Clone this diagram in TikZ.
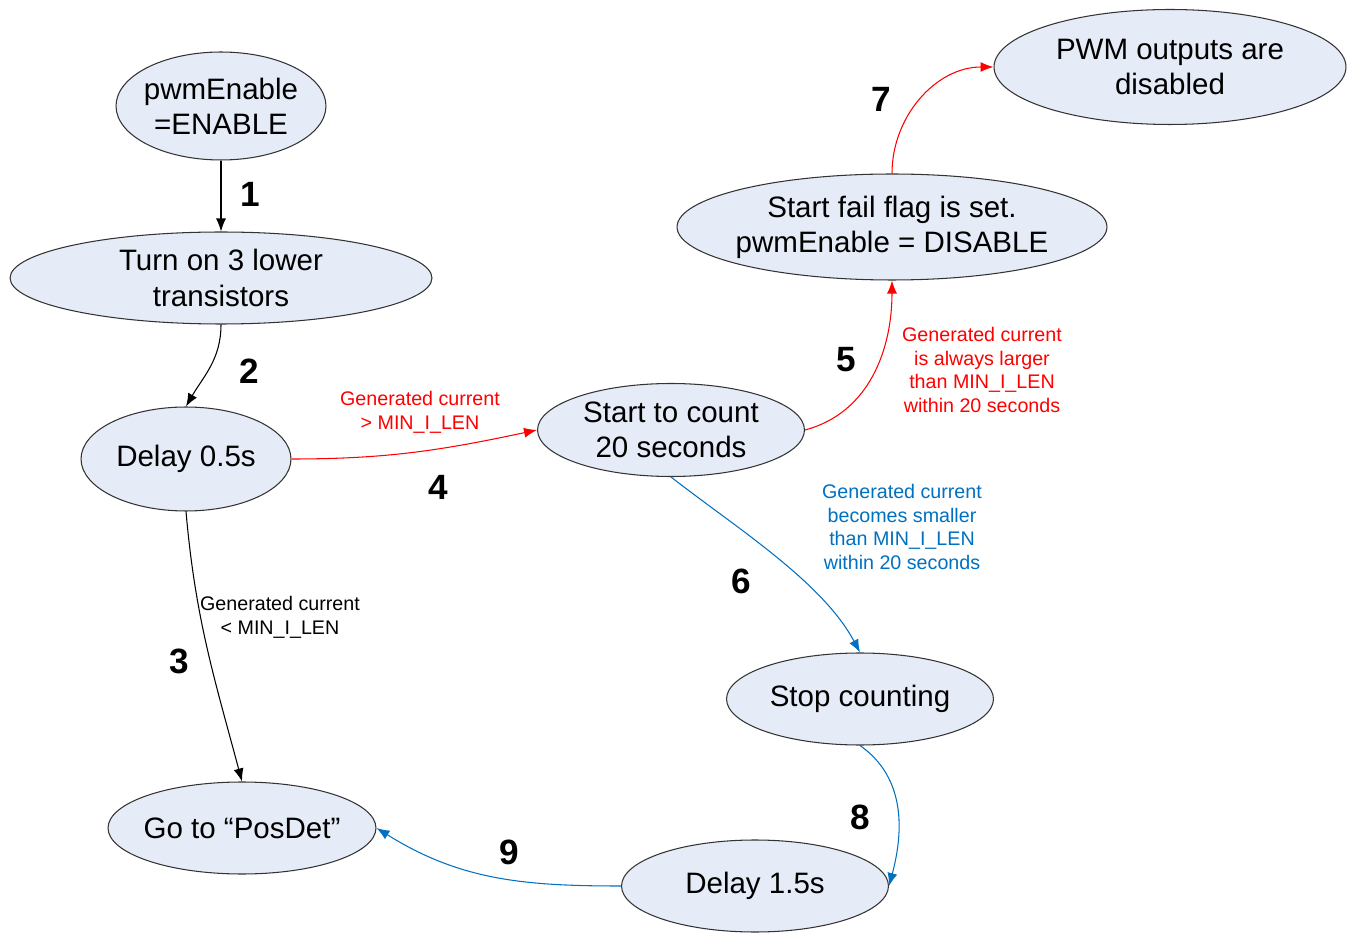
\documentclass[tikz,border=0pt]{standalone}
\usepackage{fontspec}
\setmainfont{Liberation Sans}
\usetikzlibrary{shapes.geometric,arrows.meta}
\definecolor{stateFill}{HTML}{E6ECF7}
\definecolor{flowBlue}{HTML}{0070C0}
\definecolor{flowRed}{HTML}{FF0000}

\begin{document}
\begin{tikzpicture}[x=0.02cm,y=-0.02cm,
    state/.style={ellipse,draw=black!80,fill=stateFill,line width=0.6pt,inner sep=-3mm,align=center,font=\fontsize{16.8}{20}\selectfont},
    flow/.style={line width=0.6pt,-{Latex[length=2.6mm,width=2mm]}},
    num/.style={font=\fontsize{20}{24}\selectfont\bfseries},
    cond/.style={align=center,font=\fontsize{11.2}{13.6}\selectfont}]
    \useasboundingbox (0,0) rectangle (1349,935);

    % Draw states.
    \node[state,minimum width=4.2cm,minimum height=2.16cm] (enable) at (221,106) {pwmEnable\\=ENABLE};
    \node[state,minimum width=8.44cm,minimum height=1.84cm] (lower) at (221,278) {Turn on 3 lower\\transistors};
    \node[state,minimum width=4.2cm,minimum height=2.08cm] (delayA) at (186,459) {Delay 0.5s};
    \node[state,minimum width=5.34cm,minimum height=1.86cm] (count) at (671,430) {Start to count\\20 seconds};
    \node[state,minimum width=8.6cm,minimum height=2.12cm] (fail) at (892,227) {Start fail flag is set.\\pwmEnable = DISABLE};
    \node[state,minimum width=7.04cm,minimum height=2.3cm] (pwm) at (1170,67) {PWM outputs are\\disabled};
    \node[state,minimum width=5.34cm,minimum height=1.84cm] (stop) at (860,699) {Stop counting};
    \node[state,minimum width=5.36cm,minimum height=1.84cm] (posdet) at (242,828) {Go to “PosDet”};
    \node[state,minimum width=5.34cm,minimum height=1.84cm] (delayB) at (755,886) {Delay 1.5s};

    % Draw transitions.
    \draw[flow] (enable) -- (lower);
    \draw[flow] (lower.south) to[out=-90,in=60] (delayA.north);
    \draw[flow] (delayA.south) to[out=-85,in=105] (posdet.north);
    \draw[flow,flowRed] (delayA.east) to[out=0,in=192] (count.west);
    \draw[flow,flowRed] (count.east) to[out=15,in=-90] (fail.south);
    \draw[flow,flowBlue] (count.south) to[out=-38,in=118,looseness=0.8] (stop.north);
    \draw[flow,flowRed] (fail.north) to[out=90,in=180] (pwm.west);
    \draw[flow,flowBlue] (stop.south) to[out=-35,in=75] (delayB.east);
    \draw[flow,flowBlue] (delayB.west) to[out=180,in=-32] (posdet.east);

    % Step numbers.
    \node[num] (n1) at (250,194) {1};
    \node[num] (n2) at (249,371) {2};
    \node[num] (n3) at (179,661) {3};
    \node[num] (n4) at (438,487) {4};
    \node[num] (n5) at (846,360) {5};
    \node[num] (n6) at (741,581) {6};
    \node[num] (n7) at (881,99) {7};
    \node[num] (n8) at (860,817) {8};
    \node[num] (n9) at (509,852) {9};

    % Conditions.
    \node[cond,flowRed] (higher) at (420,412) {Generated current\\> MIN\_I\_LEN};
    \node[cond] (lowerI) at (280,617) {Generated current\\< MIN\_I\_LEN};
    \node[cond,flowRed] (always) at (982,370) {Generated current\\is always larger\\than MIN\_I\_LEN\\within 20 seconds};
    \node[cond,flowBlue] (becomes) at (902,527) {Generated current\\becomes smaller\\than MIN\_I\_LEN\\within 20 seconds};
\end{tikzpicture}
\end{document}
